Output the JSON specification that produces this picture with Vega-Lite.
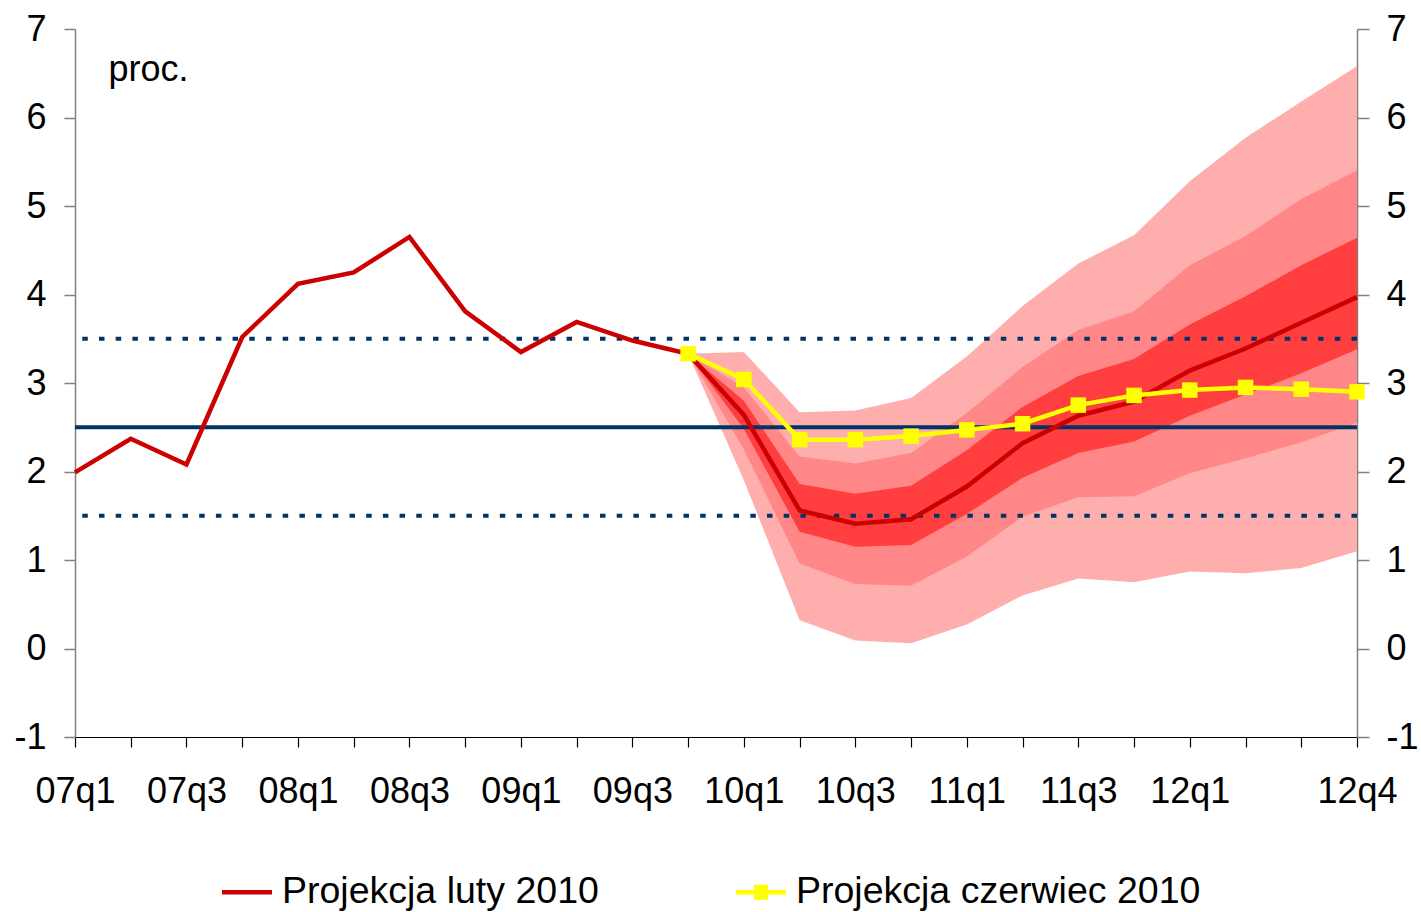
{
  "$schema": "https://vega.github.io/schema/vega-lite/v6.json",
  "width": 1282,
  "height": 708,
  "autosize": "none",
  "padding": {"left": 75, "top": 29, "right": 64, "bottom": 175},
  "background": "white",
  "config": {
    "view": {"stroke": null},
    "font": "Liberation Sans",
    "axis": {"grid": false, "labelFont": "Liberation Sans", "labelFontSize": 36, "labelColor": "#000000", "titleFont": "Liberation Sans"},
    "axisX": {"domainColor": "#000000", "tickColor": "#000000", "tickSize": 10, "labelPadding": 27, "labelAngle": 0, "labelOverlap": false, "domainWidth": 1.2, "tickWidth": 1.2},
    "axisY": {"domainColor": "#808080", "tickColor": "#808080", "domainWidth": 1.5, "tickWidth": 1.5, "labelOverlap": false, "labelExpr": "datum.value < 0 ? '-' + abs(datum.value) : datum.label"}
  },
  "datasets": {
    "lines": [
      {"q": "07q1", "series": "Projekcja luty 2010", "v": 1.99},
      {"q": "07q2", "series": "Projekcja luty 2010", "v": 2.37},
      {"q": "07q3", "series": "Projekcja luty 2010", "v": 2.08},
      {"q": "07q4", "series": "Projekcja luty 2010", "v": 3.52},
      {"q": "08q1", "series": "Projekcja luty 2010", "v": 4.12},
      {"q": "08q2", "series": "Projekcja luty 2010", "v": 4.25},
      {"q": "08q3", "series": "Projekcja luty 2010", "v": 4.65},
      {"q": "08q4", "series": "Projekcja luty 2010", "v": 3.81},
      {"q": "09q1", "series": "Projekcja luty 2010", "v": 3.35},
      {"q": "09q2", "series": "Projekcja luty 2010", "v": 3.69},
      {"q": "09q3", "series": "Projekcja luty 2010", "v": 3.48},
      {"q": "09q4", "series": "Projekcja luty 2010", "v": 3.33},
      {"q": "10q1", "series": "Projekcja luty 2010", "v": 2.64},
      {"q": "10q2", "series": "Projekcja luty 2010", "v": 1.56},
      {"q": "10q3", "series": "Projekcja luty 2010", "v": 1.41},
      {"q": "10q4", "series": "Projekcja luty 2010", "v": 1.46},
      {"q": "11q1", "series": "Projekcja luty 2010", "v": 1.83},
      {"q": "11q2", "series": "Projekcja luty 2010", "v": 2.32},
      {"q": "11q3", "series": "Projekcja luty 2010", "v": 2.63},
      {"q": "11q4", "series": "Projekcja luty 2010", "v": 2.79},
      {"q": "12q1", "series": "Projekcja luty 2010", "v": 3.14},
      {"q": "12q2", "series": "Projekcja luty 2010", "v": 3.39},
      {"q": "12q3", "series": "Projekcja luty 2010", "v": 3.68},
      {"q": "12q4", "series": "Projekcja luty 2010", "v": 3.97},
      {"q": "09q4", "series": "Projekcja czerwiec 2010", "v": 3.33},
      {"q": "10q1", "series": "Projekcja czerwiec 2010", "v": 3.04},
      {"q": "10q2", "series": "Projekcja czerwiec 2010", "v": 2.36},
      {"q": "10q3", "series": "Projekcja czerwiec 2010", "v": 2.36},
      {"q": "10q4", "series": "Projekcja czerwiec 2010", "v": 2.40},
      {"q": "11q1", "series": "Projekcja czerwiec 2010", "v": 2.47},
      {"q": "11q2", "series": "Projekcja czerwiec 2010", "v": 2.54},
      {"q": "11q3", "series": "Projekcja czerwiec 2010", "v": 2.75},
      {"q": "11q4", "series": "Projekcja czerwiec 2010", "v": 2.86},
      {"q": "12q1", "series": "Projekcja czerwiec 2010", "v": 2.92},
      {"q": "12q2", "series": "Projekcja czerwiec 2010", "v": 2.95},
      {"q": "12q3", "series": "Projekcja czerwiec 2010", "v": 2.93},
      {"q": "12q4", "series": "Projekcja czerwiec 2010", "v": 2.90}
    ],
    "fan": [
      {"q": "09q4", "oLo": 3.33, "mLo": 3.33, "iLo": 3.33, "iHi": 3.33, "mHi": 3.33, "oHi": 3.33},
      {"q": "10q1", "oLo": 1.90, "mLo": 2.25, "iLo": 2.48, "iHi": 2.80, "mHi": 2.95, "oHi": 3.35},
      {"q": "10q2", "oLo": 0.32, "mLo": 0.96, "iLo": 1.32, "iHi": 1.86, "mHi": 2.17, "oHi": 2.67},
      {"q": "10q3", "oLo": 0.09, "mLo": 0.73, "iLo": 1.15, "iHi": 1.75, "mHi": 2.09, "oHi": 2.69},
      {"q": "10q4", "oLo": 0.06, "mLo": 0.71, "iLo": 1.17, "iHi": 1.84, "mHi": 2.21, "oHi": 2.83},
      {"q": "11q1", "oLo": 0.27, "mLo": 1.04, "iLo": 1.52, "iHi": 2.24, "mHi": 2.66, "oHi": 3.30},
      {"q": "11q2", "oLo": 0.60, "mLo": 1.49, "iLo": 1.93, "iHi": 2.73, "mHi": 3.18, "oHi": 3.87},
      {"q": "11q3", "oLo": 0.79, "mLo": 1.71, "iLo": 2.21, "iHi": 3.08, "mHi": 3.60, "oHi": 4.35},
      {"q": "11q4", "oLo": 0.75, "mLo": 1.72, "iLo": 2.34, "iHi": 3.27, "mHi": 3.81, "oHi": 4.67},
      {"q": "12q1", "oLo": 0.87, "mLo": 1.98, "iLo": 2.63, "iHi": 3.66, "mHi": 4.33, "oHi": 5.28},
      {"q": "12q2", "oLo": 0.85, "mLo": 2.15, "iLo": 2.87, "iHi": 3.98, "mHi": 4.66, "oHi": 5.77},
      {"q": "12q3", "oLo": 0.91, "mLo": 2.33, "iLo": 3.11, "iHi": 4.33, "mHi": 5.08, "oHi": 6.18},
      {"q": "12q4", "oLo": 1.10, "mLo": 2.55, "iLo": 3.38, "iHi": 4.64, "mHi": 5.40, "oHi": 6.58}
    ],
    "target": [{"v": 2.5}],
    "band": [{"v": 3.5}, {"v": 1.5}]
  },
  "resolve": {"axis": {"y": "independent"}},
  "layer": [
    {
      "data": {"name": "fan"},
      "mark": {"type": "area", "color": "#FFAEAE", "opacity": 1},
      "encoding": {
        "x": {"field": "q", "type": "ordinal", "title": null,
          "scale": {"type": "point", "padding": 0, "domain": ["07q1","07q2","07q3","07q4","08q1","08q2","08q3","08q4","09q1","09q2","09q3","09q4","10q1","10q2","10q3","10q4","11q1","11q2","11q3","11q4","12q1","12q2","12q3","12q4"]},
          "axis": {"labelExpr": "indexof(['07q1','07q3','08q1','08q3','09q1','09q3','10q1','10q3','11q1','11q3','12q1','12q4'], datum.value) >= 0 ? datum.label : ''"}},
        "y": {"field": "oLo", "type": "quantitative",
          "scale": {"domain": [-1, 7], "nice": false, "zero": false},
          "axis": {"orient": "left", "values": [-1,0,1,2,3,4,5,6,7], "tickSize": 11, "labelPadding": 18,
            "title": "proc.", "titleAngle": 0, "titleX": 33, "titleY": 51, "titleAlign": "left", "titleBaseline": "alphabetic",
            "titleFontSize": 36, "titleFontWeight": "normal", "titleColor": "#000000"}},
        "y2": {"field": "oHi"}
      }
    },
    {
      "data": {"name": "fan"},
      "mark": {"type": "area", "color": "#FF8787", "opacity": 1},
      "encoding": {
        "x": {"field": "q", "type": "ordinal"},
        "y": {"field": "mLo", "type": "quantitative", "axis": null},
        "y2": {"field": "mHi"}
      }
    },
    {
      "data": {"name": "fan"},
      "mark": {"type": "area", "color": "#FF3F3F", "opacity": 1},
      "encoding": {
        "x": {"field": "q", "type": "ordinal"},
        "y": {"field": "iLo", "type": "quantitative", "axis": null},
        "y2": {"field": "iHi"}
      }
    },
    {
      "data": {"name": "band"},
      "mark": {"type": "rule", "color": "#003366", "strokeWidth": 4, "strokeDash": [5.5, 11.2]},
      "encoding": {
        "y": {"field": "v", "type": "quantitative", "axis": null}
      }
    },
    {
      "data": {"name": "target"},
      "mark": {"type": "rule", "color": "#003366", "strokeWidth": 4},
      "encoding": {
        "y": {"field": "v", "type": "quantitative",
          "axis": {"orient": "right", "values": [-1,0,1,2,3,4,5,6,7], "tickSize": 12, "labelPadding": 17, "title": null}}
      }
    },
    {
      "data": {"name": "lines"},
      "mark": {"type": "line", "strokeWidth": 4.5, "strokeJoin": "miter"},
      "encoding": {
        "x": {"field": "q", "type": "ordinal"},
        "y": {"field": "v", "type": "quantitative", "axis": null},
        "color": {"field": "series", "type": "nominal",
          "scale": {"domain": ["Projekcja luty 2010", "Projekcja czerwiec 2010"], "range": ["#CC0000", "#FFFF00"]},
          "legend": {
            "orient": "none", "direction": "horizontal", "legendX": 147, "legendY": 838,
            "title": null, "padding": 0, "columnPadding": 137, "labelOffset": 10,
            "labelFontSize": 37.5, "labelFont": "Liberation Sans", "labelColor": "#000000", "labelLimit": 0,
            "symbolSize": 2500, "symbolStrokeWidth": 0,
            "encode": {
              "symbols": {
                "update": {
                  "shape": [
                    {"test": "datum.value === 'Projekcja czerwiec 2010'", "value": "M-1,-0.09H1V0.09H-1Z M-0.28,-0.3H0.28V0.3H-0.28Z"},
                    {"value": "M-1,-0.09H1V0.09H-1Z"}
                  ],
                  "fill": [
                    {"test": "datum.value === 'Projekcja czerwiec 2010'", "value": "#FFFF00"},
                    {"value": "#CC0000"}
                  ],
                  "fillOpacity": {"value": 1},
                  "strokeWidth": {"value": 0}
                }
              }
            }
          }
        }
      }
    },
    {
      "data": {"name": "lines"},
      "transform": [{"filter": "datum.series === 'Projekcja czerwiec 2010'"}],
      "mark": {"type": "point", "shape": "square", "filled": true, "color": "#FFFF00", "size": 240, "opacity": 1},
      "encoding": {
        "x": {"field": "q", "type": "ordinal"},
        "y": {"field": "v", "type": "quantitative", "axis": null}
      }
    }
  ]
}
